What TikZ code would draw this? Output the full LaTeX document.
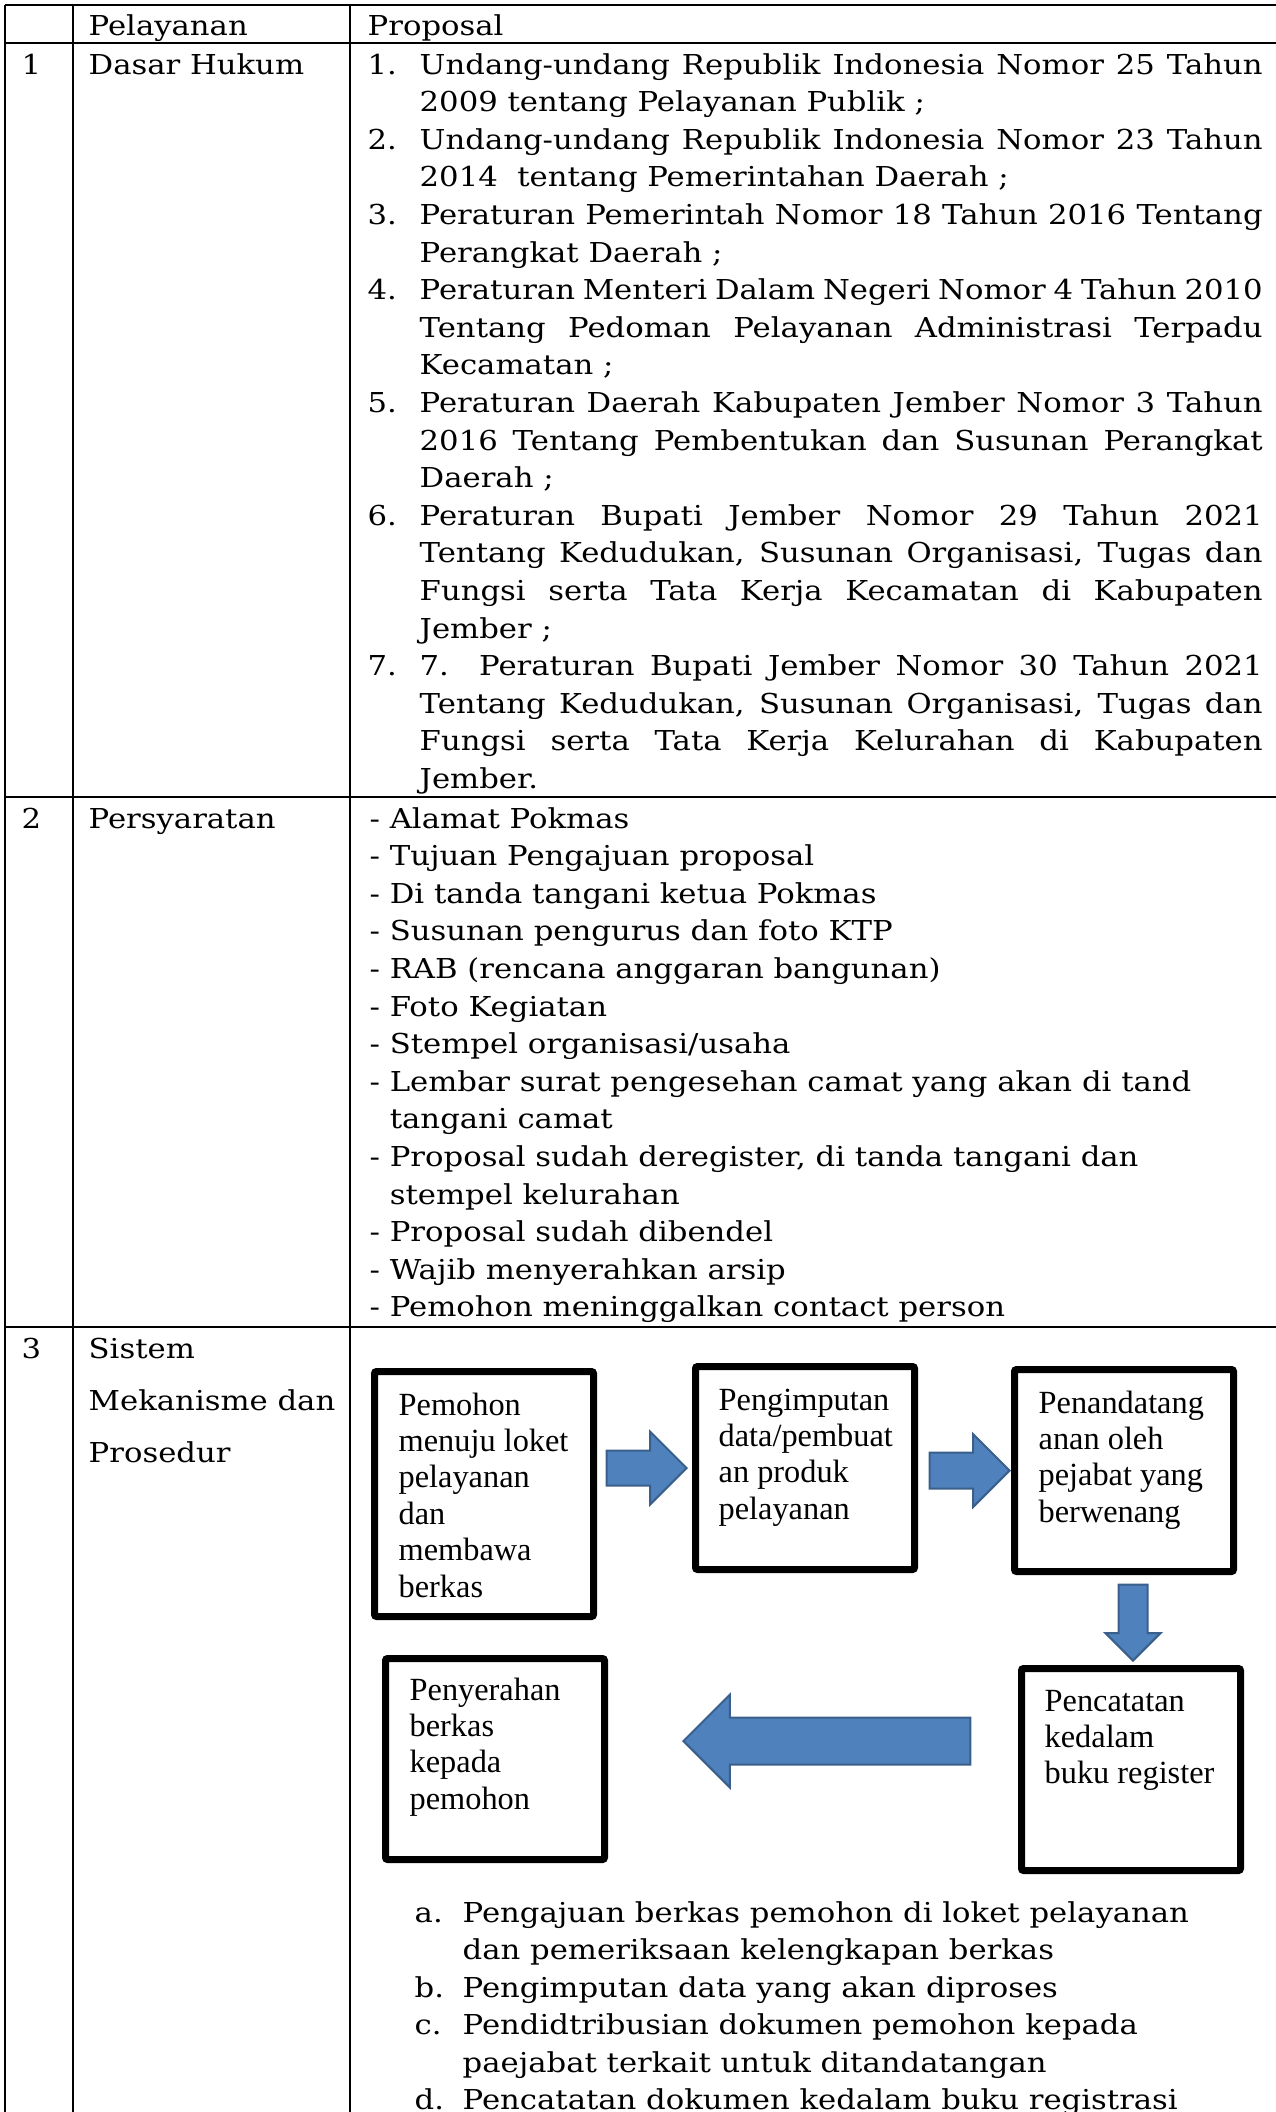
\documentclass[tikz,border=0pt]{standalone}
\usepackage{fontspec}
\setmainfont{DejaVu Serif}[FakeStretch=1.12]
\newfontfamily\boxfont{Liberation Serif}
\usetikzlibrary{shapes.arrows}
\definecolor{arrowfill}{HTML}{4F81BD}
\definecolor{arrowline}{HTML}{3A5F8B}
\newcommand{\jl}[1]{\makebox[8.43cm][s]{#1}}
\newcommand{\txtlines}[1]{\begin{tabular}[t]{@{}l@{}}#1\end{tabular}}
\tikzset{
    txt/.style={anchor=base west,inner sep=0pt,font=\fontsize{7.8}{10.7}\selectfont},
    grid/.style={line width=0.02cm},
    procbox/.style={draw,line width=0.07cm,rounded corners=0.6pt,minimum width=2.19cm,minimum height=2.02cm,inner sep=0pt},
    boxtxt/.style={anchor=base west,inner sep=0pt,font=\boxfont\fontsize{9.2}{10.36}\selectfont},
    barrow/.style={single arrow,draw=arrowline,fill=arrowfill,line width=0.02cm,single arrow tip angle=90,anchor=tip}
}
\begin{document}
\begin{tikzpicture}



    \useasboundingbox (0,0) rectangle (12.75,-21.12);
    \draw[grid] (0.05,-0.05) -- (12.76,-0.05);
    \draw[grid] (0.05,-0.43) -- (12.76,-0.43);
    \draw[grid] (0.05,-7.97) -- (12.76,-7.97);
    \draw[grid] (0.05,-13.27) -- (12.76,-13.27);
    \draw[grid] (0.05,-0.05) -- (0.05,-21.2);
    \draw[grid] (0.73,-0.05) -- (0.73,-21.2);
    \draw[grid] (3.50,-0.05) -- (3.50,-21.2);
    \node[txt] (h1) at (0.88,-0.35) {Pelayanan};
    \node[txt] (h2) at (3.67,-0.35) {Proposal};
    \node[txt] (n1) at (0.21,-0.74) {1};
    \node[txt] (n2) at (0.21,-8.28) {2};
    \node[txt] (n3) at (0.21,-13.58) {3};
    \node[txt] (s1) at (0.88,-0.74) {Dasar Hukum};
    \node[txt] (s2) at (0.88,-8.28) {Persyaratan};
    \node[txt,font=\fontsize{7.8}{14.8}\selectfont] (s3) at (0.88,-13.58) {\txtlines{Sistem\\Mekanisme dan\\Prosedur}};
    \node[txt] (p1) at (3.67,-0.74) {1.};
    \node[txt] (p2) at (3.67,-1.492) {2.};
    \node[txt] (p3) at (3.67,-2.244) {3.};
    \node[txt] (p4) at (3.67,-2.996) {4.};
    \node[txt] (p5) at (3.67,-4.124) {5.};
    \node[txt] (p6) at (3.67,-5.252) {6.};
    \node[txt] (p7) at (3.67,-6.756) {7.};
    \node[txt] (q1) at (4.19,-0.74) {\txtlines{\jl{Undang-undang Republik Indonesia Nomor 25 Tahun}\\2009 tentang Pelayanan Publik ;}};
    \node[txt] (q2) at (4.19,-1.492) {\txtlines{\jl{Undang-undang Republik Indonesia Nomor 23 Tahun}\\2014~ tentang Pemerintahan Daerah ;}};
    \node[txt] (q3) at (4.19,-2.244) {\txtlines{\jl{Peraturan Pemerintah Nomor 18 Tahun 2016 Tentang}\\Perangkat Daerah ;}};
    \node[txt] (q4) at (4.19,-2.996) {\txtlines{\jl{Peraturan Menteri Dalam Negeri Nomor 4 Tahun 2010}\\\jl{Tentang Pedoman Pelayanan Administrasi Terpadu}\\Kecamatan ;}};
    \node[txt] (q5) at (4.19,-4.124) {\txtlines{\jl{Peraturan Daerah Kabupaten Jember Nomor 3 Tahun}\\\jl{2016 Tentang Pembentukan dan Susunan Perangkat}\\Daerah ;}};
    \node[txt] (q6) at (4.19,-5.252) {\txtlines{\jl{Peraturan Bupati Jember Nomor 29 Tahun 2021}\\\jl{Tentang Kedudukan, Susunan Organisasi, Tugas dan}\\\jl{Fungsi serta Tata Kerja Kecamatan di Kabupaten}\\Jember ;}};
    \node[txt] (q7) at (4.19,-6.756) {\txtlines{\jl{7. Peraturan Bupati Jember Nomor 30 Tahun 2021}\\\jl{Tentang Kedudukan, Susunan Organisasi, Tugas dan}\\\jl{Fungsi serta Tata Kerja Kelurahan di Kabupaten}\\Jember.}};
    \node[txt] (r1) at (3.69,-8.28) {\txtlines{- Alamat Pokmas\\- Tujuan Pengajuan proposal\\- Di tanda tangani ketua Pokmas\\- Susunan pengurus dan foto KTP\\- RAB (rencana anggaran bangunan)\\- Foto Kegiatan\\- Stempel organisasi/usaha\\- Lembar surat pengesehan camat yang akan di tand\\\phantom{- }tangani camat\\- Proposal sudah deregister, di tanda tangani dan\\\phantom{- }stempel kelurahan\\- Proposal sudah dibendel\\- Wajib menyerahkan arsip\\- Pemohon meninggalkan contact person}};
    \node[procbox,minimum height=2.45cm] (b1) at (4.84,-14.94) {};
    \node[procbox,minimum height=2.03cm] (b2) at (8.05,-14.68) {};
    \node[procbox] (b3) at (11.24,-14.705) {};
    \node[procbox] (b4) at (11.31,-17.695) {};
    \node[procbox,minimum height=2.01cm] (b5) at (4.95,-17.59) {};
    \node[boxtxt] (t1) at ([xshift=0.27cm,yshift=-0.47cm]b1.north west) {\txtlines{Pemohon\\menuju loket\\pelayanan\\dan\\membawa\\berkas}};
    \node[boxtxt] (t2) at ([xshift=0.26cm,yshift=-0.47cm]b2.north west) {\txtlines{Pengimputan\\data/pembuat\\an produk\\pelayanan}};
    \node[boxtxt] (t3) at ([xshift=0.27cm,yshift=-0.47cm]b3.north west) {\txtlines{Penandatang\\anan oleh\\pejabat yang\\berwenang}};
    \node[boxtxt] (t4) at ([xshift=0.26cm,yshift=-0.46cm]b4.north west) {\txtlines{Pencatatan\\kedalam\\buku register}};
    \node[boxtxt] (t5) at ([xshift=0.27cm,yshift=-0.45cm]b5.north west) {\txtlines{Penyerahan\\berkas\\kepada\\pemohon}};
    \node[barrow,minimum height=0.8cm,inner sep=0.165cm,single arrow head extend=0.19cm] (a1) at ([xshift=-0.04cm]b2.west) {};
    \node[barrow,minimum height=0.8cm,inner sep=0.17cm,single arrow head extend=0.185cm] (a2) at (b3.west) {};
    \node[barrow,shape border rotate=270,minimum height=0.76cm,inner sep=0.135cm,single arrow head extend=0.13cm] (a3) at ([xshift=0.02cm,yshift=0.03cm]b4.north) {};
    \node[barrow,shape border rotate=180,minimum height=2.87cm,inner sep=0.225cm,single arrow head extend=0.23cm] (a4) at (6.82,-17.41) {};
    \node[txt] (l1) at (4.14,-19.22) {a.};
    \node[txt] (l2) at (4.14,-19.97) {b.};
    \node[txt] (l3) at (4.14,-20.345) {c.};
    \node[txt] (l4) at (4.14,-21.095) {d.};
    \node[txt] (m1) at (4.62,-19.22) {\txtlines{Pengajuan berkas pemohon di loket pelayanan\\dan pemeriksaan kelengkapan berkas}};
    \node[txt] (m2) at (4.62,-19.97) {Pengimputan data yang akan diproses};
    \node[txt] (m3) at (4.62,-20.345) {\txtlines{Pendidtribusian dokumen pemohon kepada\\paejabat terkait untuk ditandatangan}};
    \node[txt] (m4) at (4.62,-21.095) {Pencatatan dokumen kedalam buku registrasi};
    \end{tikzpicture}
\end{document}
